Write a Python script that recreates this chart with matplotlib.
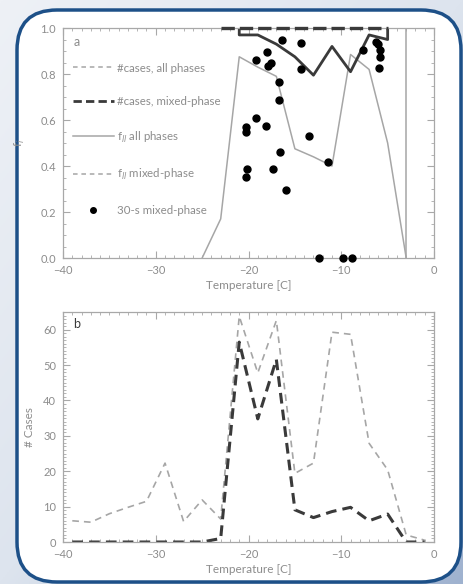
import numpy as np
import matplotlib
matplotlib.use('Agg')
import matplotlib.pyplot as plt
from matplotlib.patches import FancyBboxPatch
from matplotlib.lines import Line2D
from matplotlib.ticker import MultipleLocator, FormatStrFormatter

plt.rcParams['font.family'] = ['Lato', 'DejaVu Sans']

# ---- data ----
# panel a: liquid fraction, all phases (thin gray)
t_all = [-25, -23, -21, -19, -17, -15, -13, -11, -9, -7, -5, -3]
fl_all = [0.0, 0.17, 0.875, 0.83, 0.79, 0.475, 0.44, 0.40, 0.885, 0.82, 0.50, 0.0]
# panel a: dark solid line
t_mix = [-21, -21, -19, -17, -15, -13, -11, -9, -7, -5, -5]
fl_mix = [1.0, 0.97, 0.97, 0.93, 0.875, 0.795, 0.92, 0.81, 0.97, 0.95, 1.0]
# panel a: dashed line along the top
t_top = [-23, -21, -19, -17, -15, -13, -11, -9, -7, -5]
f_top = [1.0] * len(t_top)
t_edge = -3.0
# 30-s mixed-phase points
dot_t = [-19.2, -17.97, -17.9, -17.6, -16.35, -14.38, -14.3, -7.65, -6.29, -6.0,
         -5.79, -5.86, -5.93, -20.3, -20.3, -19.2, -18.15, -16.7, -16.7, -16.64,
         -17.36, -20.16, -20.3, -15.92, -13.48, -11.43, -12.4, -9.81, -8.84]
dot_f = [0.859, 0.894, 0.833, 0.85, 0.949, 0.935, 0.823, 0.903, 0.9375, 0.932,
         0.906, 0.876, 0.828, 0.571, 0.549, 0.609, 0.576, 0.767, 0.685, 0.459,
         0.388, 0.388, 0.353, 0.295, 0.532, 0.419, 0.0, 0.0, 0.0]

# panel b: number of cases
temps = [-39, -37, -35, -33, -31, -29, -27, -25, -23, -21,
         -19, -17, -15, -13, -11, -9, -7, -5, -3, -1]
n_all = [6.0, 5.6, 8.0, 9.8, 11.5, 22.3, 5.8, 11.9, 6.5, 63.8,
         47.8, 62.6, 19.4, 22.3, 59.3, 58.7, 27.9, 20.4, 2.0, 0.5]
n_mix = [0, 0, 0, 0, 0, 0, 0, 0, 1.0, 56.5,
         34.8, 51.6, 9.1, 6.9, 8.6, 9.8, 6.0, 7.9, 0, 0]

legend_labels = ['#cases, all phases', '#cases, mixed-phase',
                 'f$_{ll}$ all phases', 'f$_{ll}$ mixed-phase', '30-s mixed-phase']

# ---- styling ----
txt = '#8c8c8c'
spine = '#a8a8a8'
light = '#a6a6a6'
dark = '#3a3a3a'

fig = plt.figure(figsize=(4.64, 5.84), dpi=100)

# background + rounded frame
bg = fig.add_axes([0, 0, 1, 1])
grad = np.linspace(0, 1, 256)
gx, gy = np.meshgrid(grad, grad)
bg.imshow(0.5 * gx + 0.5 * gy, cmap=matplotlib.colors.LinearSegmentedColormap.from_list(
    'bgc', ['#eef1f6', '#dde4ee', '#9fb2cf']), extent=[0, 464, 584, 0], aspect='auto')
bg.set_xlim(0, 464)
bg.set_ylim(584, 0)
bg.add_patch(FancyBboxPatch((17, 10), 444, 572, boxstyle='round,pad=0,rounding_size=40',
                            facecolor='white', edgecolor='#1d5088', linewidth=2.5))
bg.axis('off')


def style(ax):
    ax.set_xlim(-40, 0)
    ax.xaxis.set_major_locator(MultipleLocator(10))
    ax.xaxis.set_minor_locator(MultipleLocator(1))
    ax.tick_params(which='both', direction='in', top=True, right=True,
                   colors=spine, labelcolor=txt, labelsize=8)
    ax.tick_params(which='major', length=5, width=0.8)
    ax.tick_params(which='minor', length=2.5, width=0.6)
    ax.tick_params(axis='x', pad=5)
    ax.tick_params(axis='y', pad=5)
    for s in ax.spines.values():
        s.set_color(spine)
        s.set_linewidth(0.9)
    ax.set_xlabel('Temperature [C]', color=txt, fontsize=8.5, labelpad=3)


# panel a
ax1 = fig.add_axes([0.1358, 0.5582, 0.7996, 0.3938])
ax1.plot(t_all, fl_all, color=light, lw=1.1)
ax1.axvline(t_edge, color=light, lw=1.1)
ax1.plot(t_mix, fl_mix, color=dark, lw=2.0)
ax1.plot(t_top, f_top, color=dark, lw=2.4, dashes=(4, 1.5), clip_on=False, zorder=4)
ax1.plot(dot_t, dot_f, 'o', color='black', ms=5, clip_on=False, zorder=5)
ax1.set_ylim(0, 1)
ax1.yaxis.set_major_locator(MultipleLocator(0.2))
ax1.yaxis.set_minor_locator(MultipleLocator(0.05))
ax1.yaxis.set_major_formatter(FormatStrFormatter('%.1f'))
style(ax1)
ax1.set_ylabel('f$_i$', color=txt, fontsize=8.5, labelpad=10)
ax1.text(0.038, 0.94, 'a', transform=ax1.transAxes, color=txt, fontsize=9,
         va='center', ha='center')

handles = [Line2D([], [], color=light, lw=1.1, dashes=(3, 2.5)),
           Line2D([], [], color=dark, lw=2.0, dashes=(3, 1.5)),
           Line2D([], [], color=light, lw=1.1),
           Line2D([], [], color=light, lw=1.1, dashes=(3, 2.5)),
           Line2D([], [], color='black', marker='o', ms=4, ls='none')]
leg = ax1.legend(handles, legend_labels, loc='upper left', bbox_to_anchor=(0.026, 0.85),
                 frameon=False, fontsize=8.3, labelspacing=1.95, handlelength=3.6,
                 handletextpad=0.25, borderpad=0, borderaxespad=0)
for t in leg.get_texts():
    t.set_color(txt)

# panel b
ax2 = fig.add_axes([0.1358, 0.0719, 0.7996, 0.3938])
ax2.plot(temps, n_all, color=light, lw=1.2, dashes=(4, 3))
ax2.plot(temps, n_mix, color=dark, lw=2.2, dashes=(3.5, 2))
ax2.set_ylim(0, 65)
ax2.yaxis.set_major_locator(MultipleLocator(10))
ax2.yaxis.set_minor_locator(MultipleLocator(1))
style(ax2)
ax2.set_ylabel('# Cases', color=txt, fontsize=8.5, labelpad=6)
ax2.text(0.037, 0.95, 'b', transform=ax2.transAxes, color=dark, fontsize=9,
         va='center', ha='center')

fig.savefig('out.png', dpi=100)
